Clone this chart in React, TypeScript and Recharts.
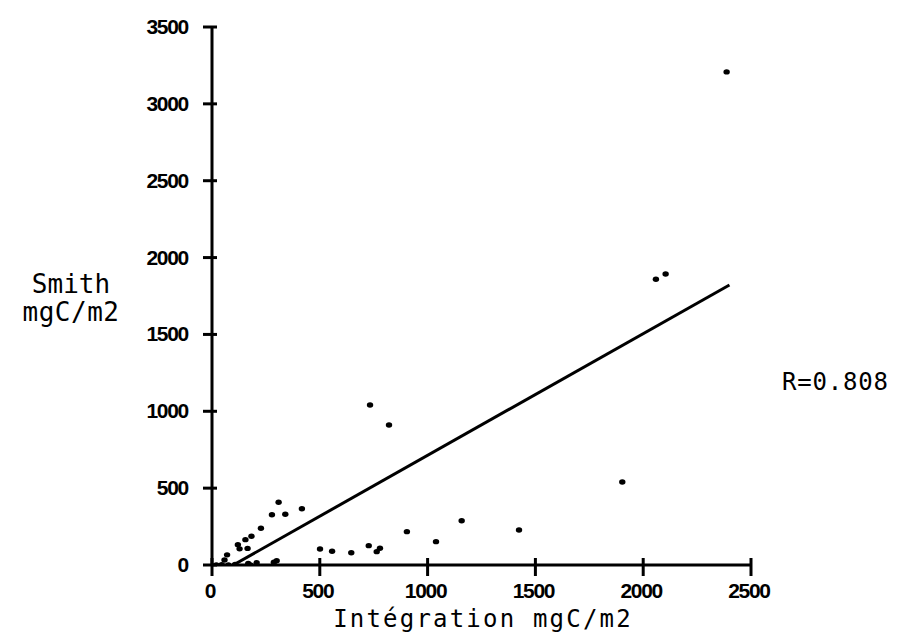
import { ScatterChart, Scatter, XAxis, YAxis } from "recharts"

// values (mgC/m2)
const integration = [20, 45, 58, 70, 76, 107, 120, 128, 155, 165, 168, 178, 183, 207, 227, 278, 287, 300, 309, 340, 417, 501, 557, 646, 727, 733, 764, 779, 821, 904, 1039, 1158, 1424, 1903, 2059, 2104, 2387]
const smith = [0, 2, 33, 66, 0, 4, 132, 105, 165, 108, 10, 0, 187, 15, 239, 327, 18, 28, 408, 330, 366, 104, 89, 80, 126, 1041, 87, 109, 911, 217, 152, 288, 228, 540, 1859, 1893, 3208]

// regression line end points
const fitX = [60, 2400]
const fitY = [-31, 1822]

const xTicks = [0, 500, 1000, 1500, 2000, 2500]
const yTicks = [0, 500, 1000, 1500, 2000, 2500, 3000, 3500]

const points = integration.map((x, i) => ({ x, y: smith[i] }))
const fit = fitX.map((x, i) => ({ x, y: fitY[i] }))

const tickFont = { fontFamily: "Liberation Sans", fontWeight: 700, fontSize: 21, letterSpacing: -1.3 }
const labelFont = { fontFamily: "DejaVu Sans Mono", fill: "#000" }

const XTick = ({ x, y, payload }: any) => (
  <g>
    <line x1={x} x2={x} y1={y - 9} y2={y + 9} stroke="#000" strokeWidth={3} />
    <text x={x - 2} y={y + 31} textAnchor="middle" fill="#000" style={tickFont}>
      {payload.value}
    </text>
  </g>
)

const YTick = ({ x, y, payload }: any) => (
  <g>
    <line x1={x - 7} x2={x + 7} y1={y} y2={y} stroke="#000" strokeWidth={3} />
    <text x={x - 22} y={y + 7} textAnchor="end" fill="#000" style={tickFont}>
      {payload.value}
    </text>
  </g>
)

const Dot = ({ cx, cy }: any) => <ellipse cx={cx} cy={cy} rx={3.2} ry={2.7} fill="#000" />

export default function App() {
  return (
    <div style={{ position: "absolute", left: 0, top: 0, width: 909, height: 644, background: "#fff" }}>
      <ScatterChart width={909} height={644} margin={{ top: 27, right: 158, bottom: 39, left: 152 }}>
        <XAxis
          type="number"
          dataKey="x"
          domain={[0, 2500]}
          ticks={xTicks}
          height={40}
          tickSize={0}
          tickLine={false}
          tick={<XTick />}
          axisLine={{ stroke: "#000", strokeWidth: 3 }}
        />
        <YAxis
          type="number"
          dataKey="y"
          domain={[0, 3500]}
          ticks={yTicks}
          width={60}
          allowDataOverflow
          tickSize={0}
          tickLine={false}
          tick={<YTick />}
          axisLine={{ stroke: "#000", strokeWidth: 3 }}
        />
        <Scatter data={points} shape={<Dot />} isAnimationActive={false} />
        <Scatter
          data={fit}
          line={{ stroke: "#000", strokeWidth: 3 }}
          shape={() => <g />}
          isAnimationActive={false}
        />
      </ScatterChart>
      <svg width={909} height={644} style={{ position: "absolute", left: 0, top: 0, pointerEvents: "none" }}>
        <text x={71} y={293} textAnchor="middle" fontSize={26} style={labelFont}>Smith</text>
        <text x={71} y={321} textAnchor="middle" fontSize={26} letterSpacing={0.5} style={labelFont}>mgC/m2</text>
        <text x={483} y={627} textAnchor="middle" fontSize={24} letterSpacing={2.2} style={labelFont}>Intégration mgC/m2</text>
        <text x={782} y={390} fontSize={24} letterSpacing={0.8} style={labelFont}>R=0.808</text>
      </svg>
    </div>
  )
}
